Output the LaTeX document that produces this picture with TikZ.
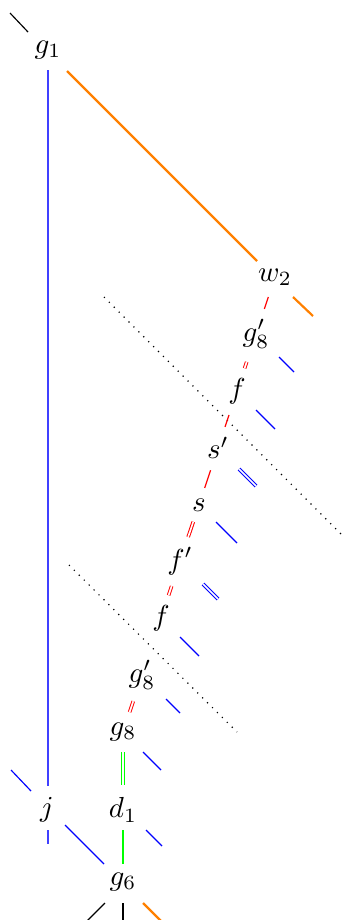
\documentclass[tikz,border=0pt]{standalone}
\usetikzlibrary{calc}
\begin{document}
\begin{tikzpicture}[x=0.345pt,y=-0.345pt,
  lbl/.style={inner sep=0pt},
  redl/.style={red,line width=0.4pt},
  redd/.style={red,double,double distance=0.55pt,line width=0.35pt},
  bluel/.style={blue,line width=0.4pt},
  blued/.style={blue,double,double distance=0.55pt,line width=0.35pt},
  bluev/.style={blue!75,line width=0.45pt},
  orangel/.style={orange,line width=0.75pt},
  greenl/.style={green,line width=0.35pt},
  greend/.style={green,double,double distance=0.55pt,line width=0.35pt},
  blackl/.style={black,line width=0.4pt},
  dotl/.style={black,dotted,line width=0.4pt}]
\useasboundingbox (0,0) rectangle (346,920);
% nodes
\node[lbl] (g1) at (48,50) {$g_1$};
\node[lbl] (w2) at (275,277) {$w_2$};
\node[lbl] (g8a) at (256,334) {$g'_8$};
\node[lbl] (fa) at (237,391) {$f$};
\node[lbl] (sp) at (218,448) {$s'$};
\node[lbl] (s) at (199,505) {$s$};
\node[lbl] (fp) at (180,561) {$f'$};
\node[lbl] (fb) at (161,618) {$f$};
\node[lbl] (g8b) at (142,675) {$g'_8$};
\node[lbl] (g8) at (123,732) {$g_8$};
\node[lbl] (j) at (47,810) {$j$};
\node[lbl] (d1) at (123,810) {$d_1$};
\node[lbl] (g6) at (123,882) {$g_6$};
% dotted lines
\coordinate (da) at (104,297);
\coordinate (db) at (344,537);
\coordinate (dc) at (69,565);
\coordinate (dd) at (237,732);
\draw[dotl] (da) -- (db);
\draw[dotl] (dc) -- (dd);
% chain (red)
\draw[redl] ($(w2)!0.35!(g8a)$) -- ($(w2)!0.56!(g8a)$);
\draw[redd] ($(g8a)!0.49!(fa)$) -- ($(g8a)!0.60!(fa)$);
\draw[redl] ($(fa)!0.42!(sp)$) -- ($(fa)!0.63!(sp)$);
\draw[redl] ($(sp)!0.39!(s)$) -- ($(sp)!0.70!(s)$);
\draw[redd] ($(s)!0.30!(fp)$) -- ($(s)!0.57!(fp)$);
\draw[redd] ($(fp)!0.44!(fb)$) -- ($(fp)!0.60!(fb)$);
\draw[redd] ($(g8b)!0.46!(g8)$) -- ($(g8b)!0.65!(g8)$);
% blue stubs
\draw[bluel] ($(g8a)+(23,23)$) -- ($(g8a)+(38,38)$);
\draw[bluel] ($(fa)+(19,19)$) -- ($(fa)+(38,38)$);
\draw[blued] ($(sp)+(21,21)$) -- ($(sp)+(38,38)$);
\draw[bluel] ($(s)+(17,17)$) -- ($(s)+(38,38)$);
\draw[blued] ($(fp)+(23,23)$) -- ($(fp)+(38,38)$);
\draw[bluel] ($(fb)+(19,19)$) -- ($(fb)+(38,38)$);
\draw[bluel] ($(g8b)+(24,24)$) -- ($(g8b)+(38,38)$);
\draw[bluel] ($(g8)+(20,20)$) -- ($(g8)+(38,38)$);
\draw[bluel] ($(d1)+(23,20)$) -- ($(d1)+(39,36)$);
% g1
\draw[blackl] ($(g1)+(-38,-37)$) -- ($(g1)+(-20,-18)$);
\draw[orangel] ($(g1)+(19,21)$) -- ($(w2)+(-18,-16)$);
\draw[orangel] ($(w2)+(18,20)$) -- ($(w2)+(38,39)$);
\draw[bluev] ($(g1)+(0,20)$) -- ($(g1|-j)+(0,-24)$);
\draw[bluev] ($(g1|-j)+(0,20)$) -- ($(g1|-j)+(0,34)$);
\draw[bluel] ($(g1|-j)+(-37,-40)$) -- ($(g1|-j)+(-17,-19)$);
\draw[bluel] ($(g1|-j)+(17,15)$) -- ($(g6)+(-19,-18)$);
% green
\draw[greend] ($(g8)+(0,20)$) -- ($(d1)+(0,-25)$);
\draw[greenl] ($(d1)+(0,20)$) -- ($(g6)+(0,-18)$);
% below g6
\draw[blackl] ($(g6)+(-18,21)$) -- ($(g6)+(-36,39)$);
\draw[blackl] ($(g6)+(0,21)$) -- ($(g6)+(0,39)$);
\draw[orangel] ($(g6)+(20,21)$) -- ($(g6)+(38,39)$);
\end{tikzpicture}
\end{document}
